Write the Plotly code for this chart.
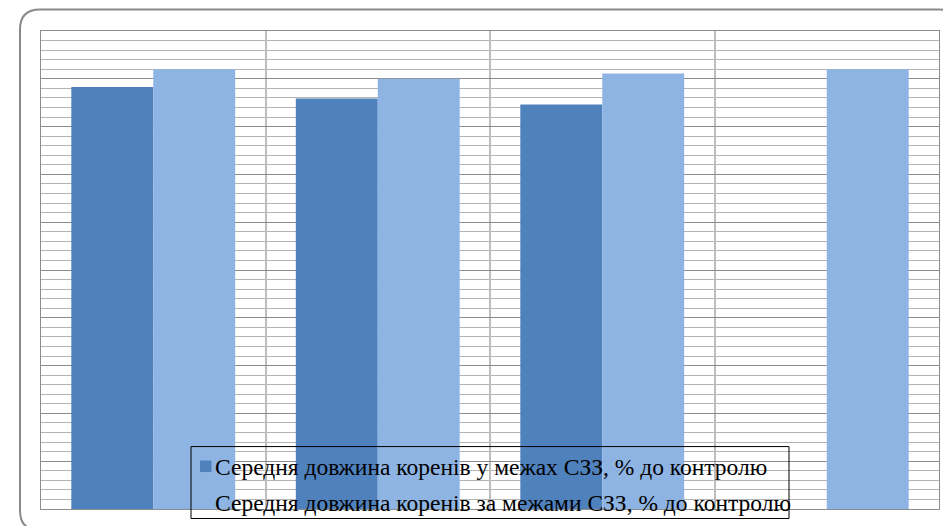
import plotly.graph_objects as go

# ---- data (y scale 0..100 % of control) ----
categories = ["Ділянка 1", "Ділянка 2", "Ділянка 3", "Ділянка 4"]
series_names = [
    "Середня довжина коренів у межах СЗЗ, % до контролю",
    "Середня довжина коренів за межами СЗЗ, % до контролю",
]
within_szz = [88.3, 85.9, 84.6, None]
outside_szz = [92.0, 90.0, 91.1, 92.0]
colors = ["#4F81BD", "#8EB4E3"]

W, H = 943, 526
L, R, T, B = 41, 939, 31, 509.5


def px(x):
    return (x - L) / (R - L)


def py(y):
    return (B - y) / (B - T)


fig = go.Figure()
fig.add_trace(go.Bar(x=categories, y=within_szz, name=series_names[0],
                     marker=dict(color=colors[0], line=dict(width=0)), showlegend=False))
fig.add_trace(go.Bar(x=categories, y=outside_szz, name=series_names[1],
                     marker=dict(color=colors[1], line=dict(width=0)), showlegend=False))

shapes = []
# outer rounded frame
r = 20
x0, y0, x1, y1 = 20, 9.5, 960, 531
path = (f"M {px(x0)},{py(y1 - r)} L {px(x0)},{py(y0 + r)} "
        f"Q {px(x0)},{py(y0)} {px(x0 + r)},{py(y0)} "
        f"L {px(x1 - r)},{py(y0)} Q {px(x1)},{py(y0)} {px(x1)},{py(y0 + r)} "
        f"L {px(x1)},{py(y1 - r)} Q {px(x1)},{py(y1)} {px(x1 - r)},{py(y1)} "
        f"L {px(x0 + r)},{py(y1)} Q {px(x0)},{py(y1)} {px(x0)},{py(y1 - r)} Z")
shapes.append(dict(type="path", xref="paper", yref="paper", path=path,
                   line=dict(color="#8a8a8a", width=2), layer="above"))
# legend box
shapes.append(dict(type="rect", xref="paper", yref="paper",
                   x0=px(191), x1=px(789), y0=py(519), y1=py(447),
                   line=dict(color="black", width=1), fillcolor="rgba(0,0,0,0)"))
# legend markers
marker_y = [(461, 472.5), (497, 508.5)]
annotations = []
text_y = [467, 503]
for i in range(2):
    shapes.append(dict(type="rect", xref="paper", yref="paper",
                       x0=px(200), x1=px(211.5), y0=py(marker_y[i][1]), y1=py(marker_y[i][0]),
                       line=dict(width=0), fillcolor=colors[i]))
    annotations.append(dict(xref="paper", yref="paper", x=px(213), y=py(text_y[i]),
                            xanchor="left", yanchor="middle", showarrow=False,
                            text=series_names[i],
                            font=dict(family="Liberation Serif", size=23.5, color="black")))

fig.update_layout(
    width=W, height=H,
    margin=dict(l=L, r=W - R, t=T, b=H - B),
    paper_bgcolor="white", plot_bgcolor="white",
    barmode="group", bargap=0.27, bargroupgap=0,
    shapes=shapes, annotations=annotations,
    showlegend=False,
    xaxis=dict(showticklabels=False, ticks="", showgrid=True, tickson="boundaries",
               gridcolor="#bdbdbd", gridwidth=2, showline=True, linecolor="#8c8c8c",
               linewidth=1, mirror=True),
    yaxis=dict(range=[0, 100], showticklabels=False, ticks="", dtick=10,
               showgrid=True, gridcolor="#8c8c8c", gridwidth=1, zeroline=False,
               showline=True, linecolor="#8c8c8c", linewidth=1, mirror=True,
               minor=dict(dtick=2, showgrid=True, gridcolor="#b4b4b4", gridwidth=1)),
)

fig.write_html("out.html")
